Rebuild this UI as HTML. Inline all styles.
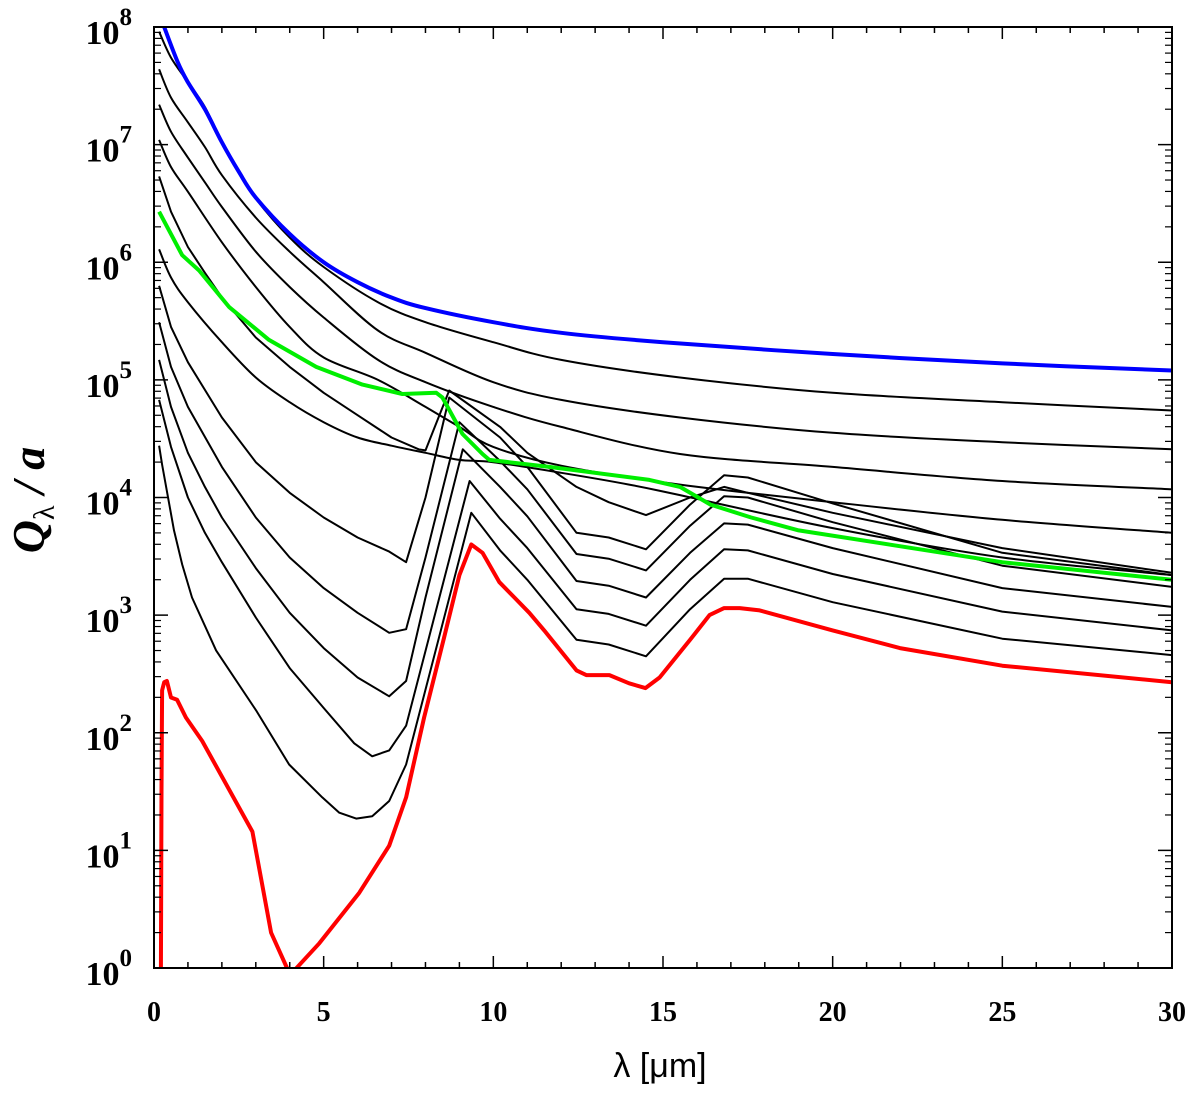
<!DOCTYPE html>
<html><head><meta charset="utf-8"><style>
html,body{margin:0;padding:0;background:#fff;width:1200px;height:1095px;overflow:hidden}
svg{display:block}
</style></head><body>
<svg id="chart" width="1200" height="1095" viewBox="0 0 1200 1095" xmlns="http://www.w3.org/2000/svg">
<defs><clipPath id="plotclip"><rect x="154" y="27" width="1018" height="942"/></clipPath></defs>
<g id="series" clip-path="url(#plotclip)"></g>
<g id="axes"></g>
<text x="660" y="1077" text-anchor="middle" font-family="Liberation Sans, DejaVu Sans, sans-serif" font-size="34">λ [μm]</text>
<text transform="translate(44,500) rotate(-90)" text-anchor="middle" font-family="Liberation Serif, serif" font-size="46" font-weight="bold" font-style="italic">Q<tspan font-size="30" dy="10" font-style="normal" font-weight="normal">λ</tspan><tspan dy="-10"> / a</tspan></text>
</svg>
<script>
// x ticks / y decades
const xTicks = [0, 5, 10, 15, 20, 25, 30];
const yDecades = [0, 1, 2, 3, 4, 5, 6, 7, 8];

// series values: wavelength (μm) and log10(Q/a)
const blueLam = [0.3,0.7,1,1.5,2,2.5,3,4,5,6,7,8,10,12,15,20,25,30];
const blueLog = [8.0,7.70,7.53,7.30,7.02,6.77,6.55,6.24,6.00,5.83,5.70,5.61,5.49,5.40,5.32,5.22,5.14,5.08];

const greenLam = [0.15,0.83,1.33,2.21,3.39,4.78,6.14,7.32,8.32,8.5,9.09,9.68,9.88,11.65,14.6,15.5,16.4,17.6,19.0,25,30];
const greenLog = [6.43,6.06,5.93,5.62,5.34,5.11,4.96,4.88,4.89,4.85,4.54,4.37,4.32,4.26,4.15,4.09,3.94,3.83,3.72,3.45,3.30];

const redLam = [0.2,0.22,0.24,0.3,0.38,0.5,0.68,0.94,1.42,2.9,3.45,3.92,4.04,4.87,6.05,6.93,7.43,7.96,8.55,9.0,9.35,9.68,10.18,10.62,11.06,11.5,12.45,12.74,13.42,14.0,14.48,14.9,15.8,16.37,16.8,17.26,17.85,20,21.98,25,30];
const redLog = [-0.3,1.5,2.36,2.43,2.44,2.30,2.28,2.13,1.93,1.16,0.30,0,-0.05,0.21,0.64,1.04,1.45,2.13,2.81,3.34,3.60,3.53,3.28,3.15,3.02,2.87,2.53,2.49,2.49,2.42,2.38,2.47,2.79,3.0,3.06,3.06,3.04,2.87,2.72,2.57,2.43];

const s1Lam = [0.15,0.5,1,1.5,2,2.5,3,4,5,6.6,8,10,12,15.5,20,25,30];
const s1Log = [7.96,7.74,7.53,7.32,7.02,6.77,6.54,6.21,5.96,5.66,5.49,5.32,5.17,5.02,4.89,4.81,4.74];
const s2Lam = [0.15,0.5,1,1.5,2,3,4,5,6.6,8,10,12,15.5,20,25,30];
const s2Log = [7.64,7.40,7.19,6.98,6.74,6.38,6.09,5.83,5.42,5.23,4.98,4.83,4.68,4.55,4.47,4.41];
const s3Lam = [0.15,0.5,1,1.5,2,3,4,5,6.6,8,10,12,15.5,20,25,30];
const s3Log = [7.34,7.11,6.89,6.68,6.47,6.09,5.79,5.53,5.17,4.98,4.77,4.60,4.37,4.26,4.14,4.07];
const s4Lam = [0.15,0.5,1,2,3,4,5,6.6,8,9,10,12,15.5,20,25,30];
const s4Log = [7.04,6.81,6.60,6.17,5.79,5.45,5.19,5.00,4.77,4.60,4.43,4.27,4.11,3.96,3.81,3.70];
const s5Lam = [0.15,0.5,1,2,3,4,5,6,7,8,9,10,12,14,15.5,20,25,30];
const s5Log = [6.11,5.87,5.66,5.32,5.02,4.81,4.64,4.51,4.44,4.38,4.32,4.30,4.21,4.11,4.02,3.74,3.49,3.34];

const d1Lam = [0.15,0.5,1,1.5,2,3,4,5,6,7,7.8,8.0,8.7,10.2,11,12.45,13.4,14.5,15.8,16.8,17.5,20,25,30];
const d1Log = [6.73,6.43,6.13,5.91,5.70,5.36,5.11,4.89,4.70,4.51,4.41,4.40,4.91,4.60,4.38,4.09,3.96,3.85,4.00,4.09,4.04,3.87,3.57,3.36];
const d2Lam = [0.15,0.5,1,2,3,4,5,6,6.93,7.43,8,8.7,10.2,11,12.45,13.4,14.5,15.8,16.8,17.5,20,25,30];
const d2Log = [5.80,5.45,5.15,4.68,4.30,4.04,3.83,3.66,3.54,3.45,4.00,4.85,4.51,4.26,3.70,3.66,3.56,3.94,4.19,4.17,3.95,3.53,3.34];
const d3Lam = [0.15,0.5,1,2,3,4,5,6,6.93,7.43,8,9.0,10.2,11,12.45,13.4,14.5,15.8,16.8,17.5,20,25,30];
const d3Log = [5.49,5.11,4.77,4.26,3.83,3.49,3.23,3.02,2.85,2.88,3.49,4.64,4.31,4.07,3.52,3.48,3.38,3.76,4.01,4.00,3.79,3.42,3.24];
const d4Lam = [0.15,0.5,1,1.5,2,3,4,5,6,6.93,7.43,8,9.1,10.2,11,12.45,13.4,14.5,15.8,16.8,17.5,20,25,30];
const d4Log = [5.17,4.77,4.38,4.09,3.83,3.40,3.02,2.72,2.47,2.31,2.44,3.15,4.41,4.09,3.84,3.29,3.25,3.15,3.53,3.78,3.77,3.57,3.23,3.07];
const d5Lam = [0.15,0.5,1,1.5,2,3,4,5,5.9,6.43,6.93,7.43,9.3,10.2,11,12.45,13.4,14.5,15.8,16.8,17.5,20,25,30];
const d5Log = [4.83,4.43,4.00,3.70,3.45,2.98,2.55,2.21,1.91,1.80,1.85,2.06,4.14,3.82,3.57,3.05,3.01,2.91,3.30,3.56,3.55,3.35,3.03,2.87];
const d6Lam = [0.15,0.24,0.59,0.83,1.12,1.83,3.01,3.98,4.96,5.46,5.96,6.43,6.93,7.43,9.35,10.2,11,12.45,13.4,14.5,15.8,16.8,17.5,20,25,30];
const d6Log = [4.44,4.28,3.72,3.43,3.15,2.70,2.19,1.73,1.45,1.32,1.27,1.29,1.42,1.73,3.87,3.55,3.30,2.79,2.75,2.65,3.05,3.31,3.31,3.11,2.80,2.66];

const NS = 'http://www.w3.org/2000/svg';
const X0 = 154, X1 = 1172, Y0 = 968, Y1 = 27;
function xs(l){ return X0 + (l - 0) / 30 * (X1 - X0); }
function ys(lg){ return Y0 - (lg - 0) / 8 * (Y0 - Y1); }

const sg = document.getElementById('series');
function drawSeries(lam, lg, color, w, name, smooth){
  const p = document.createElementNS(NS, 'path');
  const P = lam.map((l, i) => [xs(l), ys(lg[i])]);
  let d = 'M' + P[0][0].toFixed(1) + ',' + P[0][1].toFixed(1);
  for (let i = 1; i < P.length; i++) {
    if (smooth) {
      const p0 = P[Math.max(0, i - 2)], p1 = P[i - 1], p2 = P[i], p3 = P[Math.min(P.length - 1, i + 1)];
      const c1x = p1[0] + (p2[0] - p0[0]) / 6, c1y = p1[1] + (p2[1] - p0[1]) / 6;
      const c2x = p2[0] - (p3[0] - p1[0]) / 6, c2y = p2[1] - (p3[1] - p1[1]) / 6;
      d += 'C' + c1x.toFixed(1) + ',' + c1y.toFixed(1) + ' ' + c2x.toFixed(1) + ',' + c2y.toFixed(1) + ' ' + p2[0].toFixed(1) + ',' + p2[1].toFixed(1);
    } else {
      d += 'L' + P[i][0].toFixed(1) + ',' + P[i][1].toFixed(1);
    }
  }
  p.setAttribute('d', d);
  p.setAttribute('fill', 'none');
  p.setAttribute('stroke', color);
  p.setAttribute('stroke-width', w);
  p.setAttribute('stroke-linejoin', 'round');
  
  
  sg.appendChild(p);
}
drawSeries(s1Lam, s1Log, '#000', 2, 'black-curve-1', true);
drawSeries(s2Lam, s2Log, '#000', 2, 'black-curve-2', true);
drawSeries(s3Lam, s3Log, '#000', 2, 'black-curve-3', true);
drawSeries(s4Lam, s4Log, '#000', 2, 'black-curve-4', true);
drawSeries(s5Lam, s5Log, '#000', 2, 'black-curve-5', true);
drawSeries(d1Lam, d1Log, '#000', 2, 'black-curve-6', false);
drawSeries(d2Lam, d2Log, '#000', 2, 'black-curve-7', false);
drawSeries(d3Lam, d3Log, '#000', 2, 'black-curve-8', false);
drawSeries(d4Lam, d4Log, '#000', 2, 'black-curve-9', false);
drawSeries(d5Lam, d5Log, '#000', 2, 'black-curve-10', false);
drawSeries(d6Lam, d6Log, '#000', 2, 'black-curve-11', false);
drawSeries(greenLam, greenLog, '#00ee00', 4, 'green-curve', false);
drawSeries(redLam, redLog, '#ff0000', 4, 'red-curve', false);
drawSeries(blueLam, blueLog, '#0000ff', 4, 'blue-curve', true);

const ax = document.getElementById('axes');
function line(x1,y1,x2,y2,w,name){
  const l = document.createElementNS(NS,'line');
  l.setAttribute('x1',x1); l.setAttribute('y1',y1); l.setAttribute('x2',x2); l.setAttribute('y2',y2);
  l.setAttribute('stroke','#000'); l.setAttribute('stroke-width',w);
  
  
  ax.appendChild(l);
}
const fr = document.createElementNS(NS,'rect');
fr.setAttribute('x',X0); fr.setAttribute('y',Y1); fr.setAttribute('width',X1-X0); fr.setAttribute('height',Y0-Y1);
fr.setAttribute('fill','none'); fr.setAttribute('stroke','#000'); fr.setAttribute('stroke-width',2);


ax.appendChild(fr);

// x ticks
for (let v = 0; v <= 30; v++) {
  const x = xs(v), L = (v % 5 === 0) ? 12 : 6;
  line(x, Y0, x, Y0 - L, 1.5, 'x-tick');
  line(x, Y1, x, Y1 + L, 1.5, 'x-tick-top');
}
xTicks.forEach(v => {
  const t = document.createElementNS(NS,'text');
  t.setAttribute('x', xs(v)); t.setAttribute('y', 1021);
  t.setAttribute('text-anchor','middle');
  t.setAttribute('font-family','Liberation Serif, serif');
  t.setAttribute('font-weight','bold'); t.setAttribute('font-size','28');
  t.textContent = String(v);
  
  
  ax.appendChild(t);
});
// y ticks
yDecades.forEach(dd => {
  const y = ys(dd);
  line(X0, y, X0 + 14, y, 1.5, 'y-tick');
  line(X1, y, X1 - 14, y, 1.5, 'y-tick-right');
  if (dd < 8) for (let m = 2; m <= 9; m++) {
    const ym = ys(dd + Math.log10(m));
    line(X0, ym, X0 + 7, ym, 1.2, 'y-minor-tick');
    line(X1, ym, X1 - 7, ym, 1.2, 'y-minor-tick-right');
  }
  const t = document.createElementNS(NS,'text');
  t.setAttribute('x', 132); t.setAttribute('y', y + 17);
  t.setAttribute('text-anchor','end');
  t.setAttribute('font-family','Liberation Serif, serif');
  t.setAttribute('font-weight','bold'); t.setAttribute('font-size','34');
  t.innerHTML = '10<tspan dy="-19" font-size="25">' + dd + '</tspan>';
  
  
  ax.appendChild(t);
});
</script>
</body></html>
